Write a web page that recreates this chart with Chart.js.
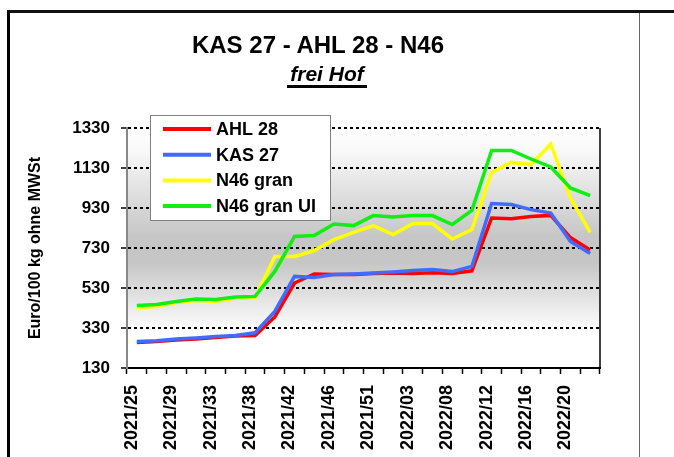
<!DOCTYPE html>
<html>
<head>
<meta charset="utf-8">
<script src="https://cdn.jsdelivr.net/npm/chart.js@4"></script>
<style>
  html, body { margin: 0; padding: 0; background: #fff; }
  body { width: 674px; height: 457px; position: relative; overflow: hidden; font-family: "Liberation Sans", Arial, sans-serif; }
  #wrap { position: absolute; left: 0; top: 0; width: 674px; height: 457px; }
  .frame-top { position: absolute; left: 7px; top: 10px; width: 667px; height: 3px; background: #111; }
  .frame-left { position: absolute; left: 7px; top: 10px; width: 3px; height: 447px; background: #000; }
  .frame-right { position: absolute; left: 639px; top: 13px; width: 1px; height: 444px; background: #666; }
  .title { position: absolute; left: 0; top: 31px; width: 636px; text-align: center; font-weight: bold; font-size: 24px; line-height: 28px; color: #000; }
  .subtitle { position: absolute; left: 0; top: 63px; width: 654px; text-align: center; font-weight: bold; font-style: italic; font-size: 21px; line-height: 21px; color: #000; }
  .subtitle span { display: inline-block; border-bottom: 3px solid #000; padding: 0 3px 1px; }
</style>
</head>
<body>
<div id="wrap"><canvas id="chart" width="674" height="457"></canvas></div>
<div class="frame-top"></div>
<div class="frame-left"></div>
<div class="frame-right"></div>
<div class="title">KAS 27 - AHL 28 - N46</div>
<div class="subtitle"><span>frei Hof</span></div>
<script>
// Kalenderwochen (nur jede zweite wird beschriftet)
const WEEKS = [
  '2021/25', '2021/27', '2021/29', '2021/31', '2021/33', '2021/35',
  '2021/38', '2021/40', '2021/42', '2021/44', '2021/46', '2021/48',
  '2021/51', '2022/01', '2022/03', '2022/05', '2022/08', '2022/10',
  '2022/12', '2022/14', '2022/16', '2022/18', '2022/20', '2022/22'
];

// Euro/100 kg ohne MWSt
const AHL_28 = [257, 262, 270, 275, 282, 290, 293, 385, 555, 600, 598, 598,
                603, 605, 602, 606, 602, 616, 880, 876, 888, 893, 782, 720];
const KAS_27 = [262, 266, 275, 280, 287, 293, 306, 413, 588, 582, 597, 600,
                605, 610, 617, 622, 612, 638, 952, 947, 922, 905, 763, 702];
const N46_GRAN = [433, 438, 457, 468, 463, 480, 480, 688, 688, 717, 772, 808,
                  842, 797, 852, 852, 775, 822, 1108, 1158, 1147, 1250, 980, 808];
const N46_GRAN_UI = [442, 447, 463, 475, 472, 485, 488, 613, 788, 792, 850, 842,
                     892, 885, 892, 892, 847, 918, 1218, 1218, 1175, 1135, 1030, 992];

const Y_MIN = 130, Y_MAX = 1330, Y_STEP = 200;

const FONT = '"Liberation Sans", Arial, sans-serif';

/* grauer Verlauf hinter der Zeichenfläche */
const bgPlugin = {
  id: 'bg',
  beforeDraw(chart) {
    const { ctx, chartArea: a } = chart;
    const g = ctx.createLinearGradient(0, a.top, 0, a.bottom);
    g.addColorStop(0, '#ffffff');
    g.addColorStop(0.1, '#f8f8f8');
    g.addColorStop(0.45, '#c6c6c6');
    g.addColorStop(0.56, '#c6c6c6');
    g.addColorStop(0.85, '#ffffff');
    g.addColorStop(1, '#ffffff');
    ctx.save();
    ctx.fillStyle = g;
    ctx.fillRect(a.left, a.top, a.right - a.left, a.bottom - a.top);
    ctx.restore();
  },
  afterDatasetsDraw(chart) {
    const { ctx, chartArea: a } = chart;
    ctx.save();
    ctx.strokeStyle = '#000';
    ctx.lineWidth = 1.5;
    ctx.beginPath();
    ctx.moveTo(a.right, a.top);
    ctx.lineTo(a.right, a.bottom);
    ctx.stroke();
    ctx.restore();
  }
};

/* Legende als Kasten oben links, wie im Original */
const boxLegend = {
  id: 'boxLegend',
  afterDraw(chart) {
    const ctx = chart.ctx;
    const x = 150, y = 115, w = 180, h = 105;
    ctx.save();
    ctx.fillStyle = '#fff';
    ctx.fillRect(x, y, w, h);
    ctx.strokeStyle = '#808080';
    ctx.lineWidth = 1;
    ctx.strokeRect(x + 0.5, y + 0.5, w, h);
    ctx.font = 'bold 18px ' + FONT;
    ctx.textBaseline = 'middle';
    chart.data.datasets.forEach((ds, i) => {
      const cy = y + 14 + i * 25.7;
      ctx.strokeStyle = ds.borderColor;
      ctx.lineWidth = 4;
      ctx.beginPath();
      ctx.moveTo(x + 13, cy);
      ctx.lineTo(x + 61, cy);
      ctx.stroke();
      ctx.fillStyle = '#000';
      ctx.fillText(ds.label, x + 66, cy + 1);
    });
    ctx.restore();
  }
};

const line = (label, data, color, order) => ({
  label, data, order,
  borderColor: color,
  backgroundColor: color,
  borderWidth: 3.5,
  pointRadius: 0,
  tension: 0,
  fill: false
});

new Chart(document.getElementById('chart'), {
  type: 'line',
  data: {
    labels: WEEKS,
    datasets: [
      line('AHL 28', AHL_28, '#ff0000', 1),
      line('KAS 27', KAS_27, '#3f6cff', 0),
      line('N46 gran', N46_GRAN, '#ffff00', 3),
      line('N46 gran UI', N46_GRAN_UI, '#11ee11', 2)
    ]
  },
  options: {
    responsive: false,
    animation: false,
    layout: { padding: { left: 22, top: 128, right: 74, bottom: 0 } },
    plugins: { legend: { display: false }, tooltip: { enabled: false } },
    scales: {
      x: {
        offset: true,
        grid: { drawOnChartArea: false, offset: true, tickLength: 6, tickColor: '#000', tickWidth: 1.5 },
        border: { color: '#000', width: 2 },
        ticks: {
          autoSkip: false, minRotation: 90, maxRotation: 90,
          padding: 11, labelOffset: -5, color: '#000',
          font: { family: FONT, size: 18, weight: 'bold' },
          callback: (v, i) => (i % 2 === 0 ? WEEKS[i] : '')
        },
        afterFit: s => { s.height = 89; }
      },
      y: {
        min: Y_MIN, max: Y_MAX,
        ticks: {
          stepSize: Y_STEP, padding: 11, color: '#000',
          font: { family: FONT, size: 17, weight: 'bold' },
          callback: v => String(v)
        },
        grid: { color: '#000', lineWidth: 2, tickLength: 6, tickColor: '#000', tickWidth: 1.5 },
        border: { color: '#888', width: 2, dash: [3, 3] },
        title: { display: true, text: 'Euro/100 kg ohne MWSt', color: '#000', font: { family: FONT, size: 16, weight: 'bold' } },
        afterFit: s => { s.width = 105; }
      }
    }
  },
  plugins: [bgPlugin, boxLegend]
});
</script>
</body>
</html>
